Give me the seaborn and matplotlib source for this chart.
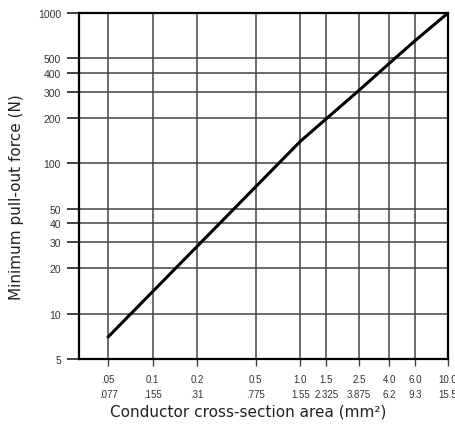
import matplotlib
matplotlib.use("Agg")
import matplotlib.pyplot as plt
import seaborn as sns
import pandas as pd
from matplotlib.ticker import FixedLocator, NullLocator, FixedFormatter

# conductor size (mm2) and minimum pull-out force (N)
area_mm2 = [0.05, 0.1, 0.2, 0.5, 1.0, 1.5, 2.5, 4.0, 6.0, 10.0]
force_n = [7, 14, 28, 70, 140, 198, 306, 462, 656, 1000]

# x tick labels: size and second row
x_ticks = [0.05, 0.1, 0.2, 0.5, 1.0, 1.5, 2.5, 4.0, 6.0, 10.0]
x_top = [".05", "0.1", "0.2", "0.5", "1.0", "1.5", "2.5", "4.0", "6.0", "10.0"]
x_bottom = [".077", ".155", ".31", ".775", "1.55", "2.325", "3.875", "6.2", "9.3", "15.5"]
y_ticks = [5, 10, 20, 30, 40, 50, 100, 200, 300, 400, 500, 1000]

sns.set_style("white")
plt.rcParams["font.family"] = ["Liberation Sans", "DejaVu Sans"]

df = pd.DataFrame({"area": area_mm2, "force": force_n})

fig = plt.figure(figsize=(4.55, 4.27), dpi=100)
ax = fig.add_axes([79 / 455, 1 - 360 / 427, (448 - 79) / 455, (360 - 14) / 427])

sns.lineplot(data=df, x="area", y="force", ax=ax, color="black", linewidth=2.2, zorder=5)

ax.set_xscale("log")
ax.set_yscale("log")
ax.set_xlim(0.0318, 10.0)
ax.set_ylim(5, 1000)

ax.xaxis.set_major_locator(FixedLocator(x_ticks))
ax.xaxis.set_major_formatter(FixedFormatter([f"{a}\n{b}" for a, b in zip(x_top, x_bottom)]))
ax.xaxis.set_minor_locator(NullLocator())
ax.yaxis.set_major_locator(FixedLocator(y_ticks))
ax.yaxis.set_major_formatter(FixedFormatter([str(v) for v in y_ticks]))
ax.yaxis.set_minor_locator(NullLocator())

ax.grid(True, which="major", color="#444444", linewidth=1.1)
for s in ax.spines.values():
    s.set_color("black")
    s.set_linewidth(1.6)

ax.tick_params(axis="x", direction="out", length=5, width=1.0, color="#444444",
               pad=6, labelsize=7, labelcolor="#333333", bottom=True)
ax.tick_params(axis="y", direction="out", length=9, width=1.2, color="#222222",
               pad=4, labelsize=7.5, labelcolor="#333333", left=True)
for lbl in ax.get_xticklabels():
    lbl.set_linespacing(1.6)

ax.set_xlabel("Conductor cross-section area (mm\u00b2)", fontsize=11,
              color="#222222", family=["DejaVu Sans"])
ax.xaxis.set_label_coords(0.459, -0.13)
ax.set_ylabel("Minimum pull-out force (N)", fontsize=11,
              color="#222222", family=["DejaVu Sans"])
ax.yaxis.set_label_coords(-0.15, 0.47)

fig.savefig("out.png", dpi=100)
